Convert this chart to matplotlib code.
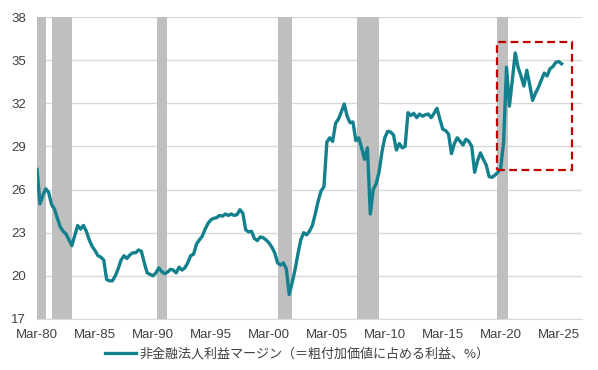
import matplotlib.pyplot as plt
import numpy as np

plt.rcParams['font.family'] = ['Liberation Sans', 'Noto Sans CJK JP', 'DejaVu Sans']

# quarterly margin (%), 1980Q1 .. 2025Q2
margin = [
    27.4, 25.0, 25.6, 26.05,   # 1980
    25.8, 24.95, 24.65, 24.0,  # 1981
    23.4, 23.1, 22.9, 22.5,    # 1982
    22.1, 22.8, 23.5, 23.25,   # 1983
    23.5, 23.1, 22.5, 22.05,   # 1984
    21.75, 21.4, 21.3, 21.1,   # 1985
    19.75, 19.65, 19.65, 20.0, # 1986
    20.5, 21.1, 21.4, 21.2,    # 1987
    21.45, 21.6, 21.6, 21.8,   # 1988
    21.7, 20.9, 20.2, 20.1,    # 1989
    20.0, 20.2, 20.55, 20.3,   # 1990
    20.15, 20.25, 20.45, 20.4, # 1991
    20.2, 20.6, 20.4, 20.55,   # 1992
    20.9, 21.4, 21.5, 22.2,    # 1993
    22.5, 22.75, 23.25, 23.65, # 1994
    23.9, 24.0, 24.05, 24.2,   # 1995
    24.15, 24.3, 24.2, 24.3,   # 1996
    24.2, 24.25, 24.6, 24.35,  # 1997
    23.2, 23.05, 23.1, 22.6,   # 1998
    22.45, 22.7, 22.65, 22.5,  # 1999
    22.3, 22.0, 21.6, 20.9,    # 2000
    20.75, 20.9, 20.5, 18.7,   # 2001
    19.5, 20.4, 21.5, 22.5,    # 2002
    23.0, 22.85, 23.1, 23.5,   # 2003
    24.3, 25.2, 25.9, 26.2,    # 2004
    29.3, 29.6, 29.35, 30.6,   # 2005
    30.9, 31.4, 31.95, 31.1,   # 2006
    30.65, 30.7, 29.4, 29.6,   # 2007
    28.9, 28.1, 28.9, 24.3,    # 2008
    26.0, 26.4, 27.2, 28.6,    # 2009
    29.6, 30.05, 30.0, 29.8,   # 2010
    28.75, 29.2, 28.9, 29.0,   # 2011
    31.35, 31.15, 31.3, 31.0,  # 2012
    31.25, 31.1, 31.2, 31.25,  # 2013
    31.0, 31.3, 31.65, 30.9,   # 2014
    30.2, 30.1, 29.85, 28.5,   # 2015
    29.2, 29.6, 29.35, 29.1,   # 2016
    29.5, 29.35, 29.0, 27.2,   # 2017
    28.0, 28.55, 28.1, 27.7,   # 2018
    26.9, 26.85, 27.0, 27.2,   # 2019
    27.5, 29.3, 34.5, 31.8,    # 2020
    33.6, 35.5, 34.5, 33.9,    # 2021
    33.2, 34.3, 33.3, 32.2,    # 2022
    32.7, 33.1, 33.6, 34.1,    # 2023
    33.9, 34.4, 34.55, 34.85,  # 2024
    34.9, 34.75,               # 2025
]

# recession shading (decimal years)
rec_start = [1980.0, 1981.3, 1990.35, 2000.8, 2007.6, 2019.65]
rec_end = [1980.8, 1983.0, 1991.2, 2002.0, 2009.5, 2020.6]

tick_years = [1980, 1985, 1990, 1995, 2000, 2005, 2010, 2015, 2020, 2025]
tick_labels = ["Mar-80", "Mar-85", "Mar-90", "Mar-95", "Mar-00",
               "Mar-05", "Mar-10", "Mar-15", "Mar-20", "Mar-25"]
y_ticks = [17, 20, 23, 26, 29, 32, 35, 38]

label = "非金融法人利益マージン（＝粗付加価値に占める利益、%）"

x = 1980 + np.arange(len(margin)) / 4

fig = plt.figure(figsize=(5.98, 3.70), dpi=100)
ax = fig.add_axes([0.062, 0.138, 0.911, 0.816])

for s, e in zip(rec_start, rec_end):
    ax.axvspan(s, e, color="#BFBFBF", lw=0, zorder=1)

ax.plot(x, margin, color="#13808D", lw=2.4, zorder=3, label=label,
        solid_joinstyle="round")

# highlight box around the post-2020 period
ax.add_patch(plt.Rectangle((2019.66, 27.33), 2026.12 - 2019.66, 36.27 - 27.33,
                           fill=False, ec="#C00000", lw=1.6, ls=(0, (3.5, 2)),
                           zorder=4))

ax.set_xlim(1980.0, 2027.0)
ax.set_ylim(17, 38)
ax.set_yticks(y_ticks)
ax.set_xticks(tick_years)
ax.set_xticklabels(tick_labels)
ax.grid(axis="y", color="#D9D9D9", lw=1.0, zorder=0)
ax.set_axisbelow(True)
for side in ["left", "right", "top"]:
    ax.spines[side].set_visible(False)
ax.spines["bottom"].set_color("#D9D9D9")
ax.tick_params(length=0, labelsize=9.5, colors="#404040")
ax.tick_params(axis="y", pad=8)
ax.tick_params(axis="x", pad=7)

fig.legend(loc="center", bbox_to_anchor=(0.497, 0.042), frameon=False,
           handlelength=2.4, handletextpad=0.3,
           prop={"family": ["Noto Sans CJK JP", "DejaVu Sans"], "size": 9.4},
           labelcolor="#404040")

fig.savefig("out.png", dpi=100)
